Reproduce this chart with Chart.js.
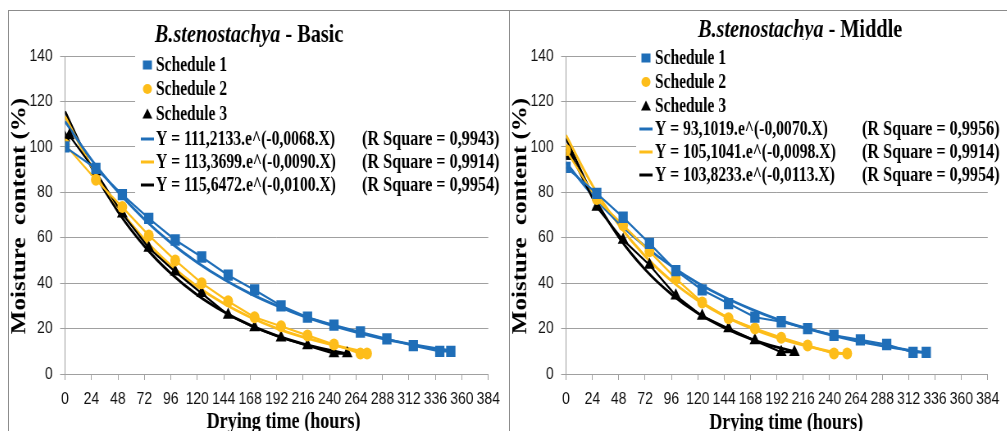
<!DOCTYPE html>
<html>
<head>
<meta charset="utf-8">
<script src="https://cdn.jsdelivr.net/npm/chart.js@4.4.0/dist/chart.umd.min.js"></script>
<style>
  body { margin: 0; background: #fff; width: 1007px; height: 431px; overflow: hidden; position: relative; }
  canvas { position: absolute; top: 10px; transform: scaleX(0.82); transform-origin: 0 0; }
  #basic { left: 8px; }
  #middle { left: 509px; }
  .frame { position: absolute; background: #8c8c8c; }
</style>
</head>
<body>
<canvas id="basic" width="611" height="421"></canvas>
<canvas id="middle" width="607" height="421"></canvas>
<div class="frame" style="left:8px;top:10px;width:999px;height:1px"></div>
<div class="frame" style="left:8px;top:10px;width:1px;height:421px"></div>
<div class="frame" style="left:509px;top:10px;width:1px;height:421px"></div>

<script>
// ---- data ----
const xTicks = [0, 24, 48, 72, 96, 120, 144, 168, 192, 216, 240, 264, 288, 312, 336, 360, 384];
const yTicks = [0, 20, 40, 60, 80, 100, 120, 140];
const scheduleLabels = ['Schedule 1', 'Schedule 2', 'Schedule 3'];

// Basic - measured points
const basicT1 = [0, 28, 52, 76, 100, 124, 148, 172, 196, 220, 244, 268, 292, 316, 340, 350];
const basicV1 = [100, 90.5, 79, 68.5, 59, 51.5, 43.5, 37, 30, 25, 21.5, 18.5, 15.5, 12.5, 10, 10];
const basicT2 = [0, 28, 52, 76, 100, 124, 148, 172, 196, 220, 244, 268, 274];
const basicV2 = [101, 85.5, 73.5, 61, 50, 40, 32, 25, 21, 17, 13, 9, 9];
const basicT3 = [0, 4, 28, 52, 76, 100, 124, 148, 172, 196, 220, 244, 256];
const basicV3 = [104, 105, 89, 70.5, 55.5, 45, 35.5, 26, 20.5, 16, 12.5, 9, 9];
// Basic - trend curves
const basicFitT1 = [0, 24, 48, 72, 96, 120, 144, 168, 192, 216, 240, 264, 288, 312, 336, 350];
const basicFit1 = [111.2, 94.4, 80.2, 68.1, 57.8, 49.1, 41.7, 35.4, 30.1, 25.5, 21.7, 18.4, 15.6, 13.3, 11.3, 10.3];
const basicFitT2 = [0, 24, 48, 72, 96, 120, 144, 168, 192, 216, 240, 264, 272];
const basicFit2 = [113.4, 91.4, 73.6, 59.3, 47.8, 38.5, 31.0, 25.0, 20.1, 16.2, 13.1, 10.5, 9.8];
const basicFitT3 = [0, 24, 48, 72, 96, 120, 144, 168, 192, 216, 240, 256];
const basicFit3 = [115.6, 91.0, 71.5, 56.3, 44.3, 34.8, 27.4, 21.5, 16.9, 13.3, 10.5, 8.9];
const basicEq = ['Y = 111,2133.e^(-0,0068.X)', 'Y = 113,3699.e^(-0,0090.X)', 'Y = 115,6472.e^(-0,0100.X)'];
const basicR2 = ['(R Square = 0,9943)', '(R Square = 0,9914)', '(R Square = 0,9954)'];

// Middle - measured points
const middleT1 = [0, 28, 52, 76, 100, 124, 148, 172, 196, 220, 244, 268, 292, 316, 328];
const middleV1 = [91, 79.5, 69, 57.5, 45.5, 37, 31, 25, 23, 20, 17, 15, 13, 9.5, 9.5];
const middleT2 = [0, 28, 52, 76, 100, 124, 148, 172, 196, 220, 244, 256];
const middleV2 = [98.5, 77, 65.5, 54, 42, 31.5, 24.5, 20, 16, 12.5, 9, 9];
const middleT3 = [0, 5, 28, 52, 76, 100, 124, 148, 172, 196, 208];
const middleV3 = [96, 96, 73.5, 59, 48, 34.5, 25.5, 20, 14.7, 9.6, 9.6];
// Middle - trend curves
const middleFitT1 = [0, 24, 48, 72, 96, 120, 144, 168, 192, 216, 240, 264, 288, 312, 328];
const middleFit1 = [93.1, 78.7, 66.5, 56.2, 47.5, 40.1, 33.9, 28.7, 24.2, 20.5, 17.3, 14.6, 12.4, 10.5, 9.3];
const middleFitT2 = [0, 24, 48, 72, 96, 120, 144, 168, 192, 216, 240, 256];
const middleFit2 = [105.1, 83.1, 65.7, 51.9, 41.0, 32.4, 25.6, 20.3, 16.0, 12.7, 10.0, 8.6];
const middleFitT3 = [0, 24, 48, 72, 96, 120, 144, 168, 192, 208];
const middleFit3 = [103.8, 79.2, 60.3, 46.0, 35.1, 26.7, 20.4, 15.5, 11.8, 9.9];
const middleEq = ['Y = 93,1019.e^(-0,0070.X)', 'Y = 105,1041.e^(-0,0098.X)', 'Y = 103,8233.e^(-0,0113.X)'];
const middleR2 = ['(R Square = 0,9956)', '(R Square = 0,9914)', '(R Square = 0,9954)'];

// ---- styling ----
const BLUE = '#1F6EB8';
const GOLD = '#FDBD1A';
const BLACK = '#000000';
const colors = [BLUE, GOLD, BLACK];
const marks = ['rect', 'circle', 'triangle'];
const markSize = [8, 6, 7.5];
const GRID = '#a0a0a0';
const SERIF = '"Liberation Serif", "Times New Roman", serif';
const TICKFONT = '"Liberation Sans", Arial, sans-serif';

function pts(xs, ys) {
    return xs.map((x, i) => ({ x: x, y: ys[i] }));
}

function buildDatasets(times, values, fitTimes, fits) {
    const sets = [];
    for (let i = 0; i < 3; i++) {
        sets.push({
            label: scheduleLabels[i],
            data: pts(times[i], values[i]),
            showLine: true,
            borderColor: colors[i],
            backgroundColor: colors[i],
            borderWidth: 2.2,
            pointStyle: marks[i],
            pointRadius: markSize[i],
            pointBorderWidth: 0,
            order: 0
        });
    }
    for (let i = 0; i < 3; i++) {
        sets.push({
            label: 'fit ' + (i + 1),
            data: pts(fitTimes[i], fits[i]),
            showLine: true,
            borderColor: colors[i],
            borderWidth: 2.8,
            pointRadius: 0,
            cubicInterpolationMode: 'monotone',
            order: 1
        });
    }
    return sets;
}

// text squeezed a bit more than the canvas, like the narrow type in the original
function squeezed(ctx, str, x, y, k) {
    ctx.save();
    ctx.translate(x, y);
    ctx.scale(k, 1);
    ctx.fillText(str, 0, 0);
    ctx.restore();
}

// draws the title, axis titles and the boxed legend
const panelText = {
    id: 'panelText',
    afterDraw(chart, args, o) {
        const ctx = chart.ctx;
        ctx.save();
        ctx.fillStyle = '#000';

        // title: italic species + plain part
        const f1 = 'italic bold 26px ' + SERIF;
        const f2 = 'bold 26px ' + SERIF;
        const k = 0.95;
        ctx.textBaseline = 'alphabetic';
        ctx.textAlign = 'left';
        ctx.font = f1;
        const w1 = ctx.measureText(o.title[0]).width * k;
        ctx.font = f2;
        const w2 = ctx.measureText(o.title[1]).width * k;
        const tx = o.titleX - (w1 + w2) / 2;
        ctx.font = f1;
        squeezed(ctx, o.title[0], tx, o.titleY, k);
        ctx.font = f2;
        squeezed(ctx, o.title[1], tx + w1, o.titleY, k);

        // axis titles
        ctx.textAlign = 'center';
        ctx.font = 'bold 24px ' + SERIF;
        squeezed(ctx, 'Drying time (hours)', o.xTitle[0], o.xTitle[1], 0.92);
        ctx.save();
        ctx.translate(o.yTitle[0], o.yTitle[1]);
        ctx.rotate(-Math.PI / 2);
        ctx.textBaseline = 'middle';
        ctx.font = 'bold 25px ' + SERIF;
        ctx.fillText('Moisture  content (%)', 0, 0);
        ctx.restore();

        // legend box
        const L = o.legend;
        ctx.fillStyle = '#fff';
        ctx.fillRect(L.box[0], L.box[1], chart.width - L.box[0], L.box[2] - L.box[1]);
        ctx.font = 'bold 21px ' + SERIF;
        ctx.textAlign = 'left';
        ctx.textBaseline = 'middle';
        for (let i = 0; i < 3; i++) {
            const y = L.rows[i];
            ctx.fillStyle = colors[i];
            if (i === 0) {
                ctx.fillRect(L.markX - 5.5, y - 4.5, 11, 9);
            } else if (i === 1) {
                ctx.beginPath();
                ctx.ellipse(L.markX, y, 5.5, 5, 0, 0, Math.PI * 2);
                ctx.fill();
            } else {
                ctx.beginPath();
                ctx.moveTo(L.markX, y - 5.5);
                ctx.lineTo(L.markX + 6, y + 4.5);
                ctx.lineTo(L.markX - 6, y + 4.5);
                ctx.closePath();
                ctx.fill();
            }
            ctx.fillStyle = '#000';
            squeezed(ctx, scheduleLabels[i], L.textX, y + 1, 0.9);
        }
        for (let i = 0; i < 3; i++) {
            const y = L.rows[i + 3];
            ctx.strokeStyle = colors[i];
            ctx.lineWidth = 3;
            ctx.beginPath();
            ctx.moveTo(L.markX - 8, y);
            ctx.lineTo(L.markX + 8, y);
            ctx.stroke();
            ctx.fillStyle = '#000';
            squeezed(ctx, o.eq[i], L.textX, y + 1, 0.91);
            squeezed(ctx, o.r2[i], L.r2X, y + 1, 0.94);
        }
        ctx.restore();
    }
};

function makeChart(id, datasets, areaRight, text) {
    new Chart(document.getElementById(id), {
        type: 'scatter',
        data: { datasets: datasets },
        plugins: [panelText],
        options: {
            responsive: false,
            animation: false,
            layout: { padding: { left: 0, top: 46, right: areaRight, bottom: 0 } },
            plugins: {
                legend: { display: false },
                tooltip: { enabled: false },
                panelText: text
            },
            scales: {
                x: {
                    type: 'linear',
                    min: xTicks[0],
                    max: xTicks[xTicks.length - 1],
                    afterBuildTicks: (s) => { s.ticks = xTicks.map(v => ({ value: v })); },
                    afterFit: (s) => { s.height = 57; },
                    grid: { drawOnChartArea: false, drawTicks: true, tickLength: 6, color: GRID },
                    border: { color: GRID, width: 1 },
                    ticks: {
                        autoSkip: false, maxRotation: 0, padding: 9,
                        color: '#111', font: { family: TICKFONT, size: 17 }
                    }
                },
                y: {
                    min: yTicks[0],
                    max: yTicks[yTicks.length - 1],
                    afterBuildTicks: (s) => { s.ticks = yTicks.map(v => ({ value: v })); },
                    afterFit: (s) => { s.width = 69.5; },
                    grid: { color: GRID, tickLength: 6 },
                    border: { color: GRID, width: 1 },
                    ticks: {
                        padding: 9,
                        color: '#111', font: { family: TICKFONT, size: 17 }
                    }
                }
            }
        }
    });
}

makeChart('basic',
    buildDatasets([basicT1, basicT2, basicT3], [basicV1, basicV2, basicV3],
                  [basicFitT1, basicFitT2, basicFitT3], [basicFit1, basicFit2, basicFit3]),
    25.3,
    {
        title: ['B.stenostachya', ' - Basic'], titleX: 294, titleY: 32,
        xTitle: [336, 418], yTitle: [15, 206],
        eq: basicEq, r2: basicR2,
        legend: { box: [155, 37, 190], rows: [55, 79, 104, 129, 152, 175], markX: 170, textX: 180.5, r2X: 431.7 }
    });

makeChart('middle',
    buildDatasets([middleT1, middleT2, middleT3], [middleV1, middleV2, middleV3],
                  [middleFitT1, middleFitT2, middleFitT3], [middleFit1, middleFit2, middleFit3]),
    18,
    {
        title: ['B.stenostachya', ' - Middle'], titleX: 355, titleY: 27,
        xTitle: [338, 419], yTitle: [15, 206],
        eq: middleEq, r2: middleR2,
        legend: { box: [155, 30, 178], rows: [48, 72, 96, 119, 142, 165], markX: 167, textX: 178, r2X: 430.5 }
    });
</script>
</body>
</html>
